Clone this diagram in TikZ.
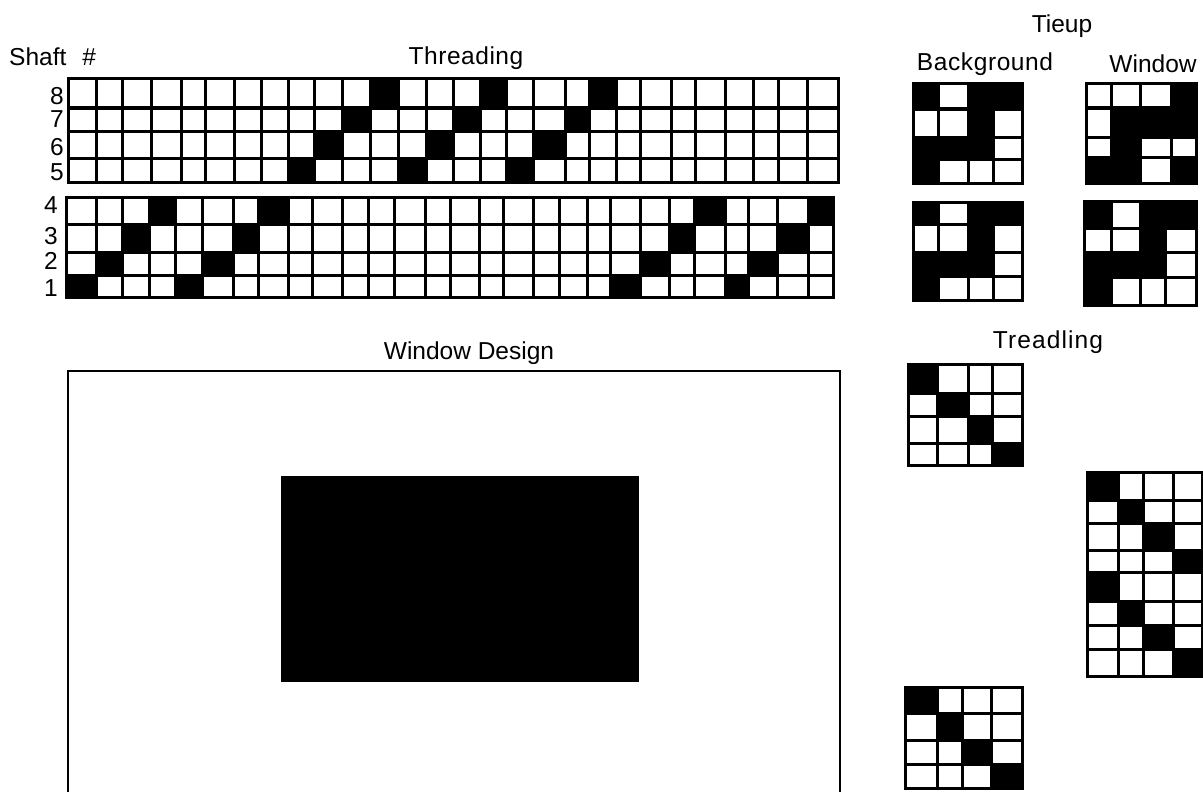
\documentclass[tikz,border=0pt]{standalone}
\usepackage{fontspec}
\setmainfont{Liberation Sans}
\tikzset{
  gridline/.style={black, line width=3pt, line cap=rect},
  framedline/.style={black, line width=2.5pt, line cap=rect},
  caption/.style={font=\fontsize{24.5}{28}\selectfont, inner sep=0pt},
  widecaption/.style={font=\fontsize{24.5}{28}\selectfont\addfontfeature{LetterSpace=#1}, inner sep=0pt},
  shaftnum/.style={font=\fontsize{24.5}{28}\selectfont, inner sep=0pt}
}

\begin{document}
\begin{tikzpicture}[x=1pt,y=-1pt]
\useasboundingbox (0,0) rectangle (1203,792);
% captions
\node[caption, anchor=west] (shaftcap) at (9,56.5) {Shaft\hspace{0.65em}\#};
\node[widecaption=2.2] (threadcap) at (466,58.5) {Threading};
\node[caption] (tieupcap) at (1062,26.5) {Tieup};
\node[widecaption=2.4] (backcap) at (985,64) {Background};
\node[caption] (windowcap) at (1153,64) {Window};
\node[caption] (designcap) at (469,353.5) {Window Design};
\node[widecaption=4.5] (treadcap) at (1048,342.5) {Treadling};
% shaft numbers
\node[shaftnum] (shaft8) at (57,96) {8};
\node[shaftnum] (shaft7) at (57,119.5) {7};
\node[shaftnum] (shaft6) at (57,147.5) {6};
\node[shaftnum] (shaft5) at (57,172) {5};
\node[shaftnum] (shaft4) at (51,205.5) {4};
\node[shaftnum] (shaft3) at (51,236.5) {3};
\node[shaftnum] (shaft2) at (51,260.5) {2};
\node[shaftnum] (shaft1) at (51,288.5) {1};
% threading, upper block
\draw[gridline] (68,79) -- (838,79) (68,108) -- (838,108) (68,131) -- (838,131) (68,158) -- (838,158) (68,182) -- (838,182);
\draw[gridline] (68,79) -- (68,182) (96,79) -- (96,182) (122,79) -- (122,182) (151,79) -- (151,182) (181,79) -- (181,182) (205,79) -- (205,182) (234,79) -- (234,182);
\draw[gridline] (261,79) -- (261,182) (288,79) -- (288,182) (314,79) -- (314,182) (342,79) -- (342,182) (370,79) -- (370,182) (398,79) -- (398,182) (426,79) -- (426,182);
\draw[gridline] (453,79) -- (453,182) (480,79) -- (480,182) (506,79) -- (506,182) (533,79) -- (533,182) (565,79) -- (565,182) (589,79) -- (589,182) (616,79) -- (616,182);
\draw[gridline] (640,79) -- (640,182) (671,79) -- (671,182) (695,79) -- (695,182) (725,79) -- (725,182) (753,79) -- (753,182) (778,79) -- (778,182) (807,79) -- (807,182) (838,79) -- (838,182);
\fill[black] (288,158) rectangle (314,182);
\fill[black] (314,131) rectangle (342,158);
\fill[black] (342,108) rectangle (370,131);
\fill[black] (370,79) rectangle (398,108);
\fill[black] (398,158) rectangle (426,182);
\fill[black] (426,131) rectangle (453,158);
\fill[black] (453,108) rectangle (480,131);
\fill[black] (480,79) rectangle (506,108);
\fill[black] (506,158) rectangle (533,182);
\fill[black] (533,131) rectangle (565,158);
\fill[black] (565,108) rectangle (589,131);
\fill[black] (589,79) rectangle (616,108);
% threading, lower block
\draw[gridline] (66,197) -- (833,197) (66,224) -- (833,224) (66,252) -- (833,252) (66,275) -- (833,275) (66,297) -- (833,297);
\draw[gridline] (66,197) -- (66,297) (96,197) -- (96,297) (122,197) -- (122,297) (149,197) -- (149,297) (175,197) -- (175,297) (202,197) -- (202,297) (233,197) -- (233,297);
\draw[gridline] (258,197) -- (258,297) (288,197) -- (288,297) (312,197) -- (312,297) (342,197) -- (342,297) (368,197) -- (368,297) (394,197) -- (394,297) (425,197) -- (425,297);
\draw[gridline] (450,197) -- (450,297) (479,197) -- (479,297) (503,197) -- (503,297) (533,197) -- (533,297) (559,197) -- (559,297) (587,197) -- (587,297) (610,197) -- (610,297);
\draw[gridline] (640,197) -- (640,297) (669,197) -- (669,297) (694,197) -- (694,297) (725,197) -- (725,297) (748,197) -- (748,297) (777,197) -- (777,297) (808,197) -- (808,297) (833,197) -- (833,297);
\fill[black] (66,275) rectangle (96,297);
\fill[black] (96,252) rectangle (122,275);
\fill[black] (122,224) rectangle (149,252);
\fill[black] (149,197) rectangle (175,224);
\fill[black] (175,275) rectangle (202,297);
\fill[black] (202,252) rectangle (233,275);
\fill[black] (233,224) rectangle (258,252);
\fill[black] (258,197) rectangle (288,224);
\fill[black] (610,275) rectangle (640,297);
\fill[black] (640,252) rectangle (669,275);
\fill[black] (669,224) rectangle (694,252);
\fill[black] (694,197) rectangle (725,224);
\fill[black] (725,275) rectangle (748,297);
\fill[black] (748,252) rectangle (777,275);
\fill[black] (777,224) rectangle (808,252);
\fill[black] (808,197) rectangle (833,224);
% tieup, background top
\draw[gridline] (913,84) -- (1022,84) (913,109) -- (1022,109) (913,137) -- (1022,137) (913,159) -- (1022,159) (913,183) -- (1022,183);
\draw[gridline] (913,84) -- (913,183) (938,84) -- (938,183) (968,84) -- (968,183) (993,84) -- (993,183) (1022,84) -- (1022,183);
\fill[black] (913,84) rectangle (938,109);
\fill[black] (968,84) rectangle (1022,109);
\fill[black] (968,109) rectangle (993,137);
\fill[black] (913,137) rectangle (993,159);
\fill[black] (913,159) rectangle (938,183);
% tieup, window top
\draw[gridline] (1086,84) -- (1196,84) (1086,108) -- (1196,108) (1086,137) -- (1196,137) (1086,157) -- (1196,157) (1086,183) -- (1196,183);
\draw[gridline] (1086,84) -- (1086,183) (1111,84) -- (1111,183) (1140,84) -- (1140,183) (1171,84) -- (1171,183) (1196,84) -- (1196,183);
\fill[black] (1171,84) rectangle (1196,108);
\fill[black] (1111,108) rectangle (1196,137);
\fill[black] (1111,137) rectangle (1140,157);
\fill[black] (1086,157) rectangle (1140,183);
\fill[black] (1171,157) rectangle (1196,183);
% tieup, background bottom
\draw[gridline] (913,202) -- (1022,202) (913,224) -- (1022,224) (913,252) -- (1022,252) (913,276) -- (1022,276) (913,300) -- (1022,300);
\draw[gridline] (913,202) -- (913,300) (938,202) -- (938,300) (968,202) -- (968,300) (993,202) -- (993,300) (1022,202) -- (1022,300);
\fill[black] (913,202) rectangle (938,224);
\fill[black] (968,202) rectangle (1022,224);
\fill[black] (968,224) rectangle (993,252);
\fill[black] (913,252) rectangle (993,276);
\fill[black] (913,276) rectangle (938,300);
% tieup, window bottom
\draw[gridline] (1084,201) -- (1196,201) (1084,228) -- (1196,228) (1084,252) -- (1196,252) (1084,277) -- (1196,277) (1084,305) -- (1196,305);
\draw[gridline] (1084,201) -- (1084,305) (1111,201) -- (1111,305) (1140,201) -- (1140,305) (1165,201) -- (1165,305) (1196,201) -- (1196,305);
\fill[black] (1084,201) rectangle (1111,228);
\fill[black] (1140,201) rectangle (1196,228);
\fill[black] (1140,228) rectangle (1165,252);
\fill[black] (1084,252) rectangle (1165,277);
\fill[black] (1084,277) rectangle (1111,305);
% window design
\draw[framedline] (68,795) -- (68,371) -- (840,371) -- (840,795);
\fill[black] (281,476) rectangle (639,682);
% treadling, first block
\draw[gridline] (908,364) -- (1022,364) (908,393) -- (1022,393) (908,416) -- (1022,416) (908,443) -- (1022,443) (908,465) -- (1022,465);
\draw[gridline] (908,364) -- (908,465) (937,364) -- (937,465) (968,364) -- (968,465) (992,364) -- (992,465) (1022,364) -- (1022,465);
\fill[black] (908,364) rectangle (937,393);
\fill[black] (937,393) rectangle (968,416);
\fill[black] (968,416) rectangle (992,443);
\fill[black] (992,443) rectangle (1022,465);
% treadling, second block
\draw[gridline] (1087,472) -- (1202,472) (1087,500) -- (1202,500) (1087,523) -- (1202,523) (1087,550) -- (1202,550) (1087,572) -- (1202,572);
\draw[gridline] (1087,601) -- (1202,601) (1087,625) -- (1202,625) (1087,649) -- (1202,649) (1087,676) -- (1202,676);
\draw[gridline] (1087,472) -- (1087,676) (1118,472) -- (1118,676) (1143,472) -- (1143,676) (1173,472) -- (1173,676) (1202,472) -- (1202,676);
\fill[black] (1087,472) rectangle (1118,500);
\fill[black] (1118,500) rectangle (1143,523);
\fill[black] (1143,523) rectangle (1173,550);
\fill[black] (1173,550) rectangle (1202,572);
\fill[black] (1087,572) rectangle (1118,601);
\fill[black] (1118,601) rectangle (1143,625);
\fill[black] (1143,625) rectangle (1173,649);
\fill[black] (1173,649) rectangle (1202,676);
% treadling, third block
\draw[gridline] (905,687) -- (1022,687) (905,713) -- (1022,713) (905,740) -- (1022,740) (905,764) -- (1022,764) (905,788) -- (1022,788);
\draw[gridline] (905,687) -- (905,788) (937,687) -- (937,788) (962,687) -- (962,788) (991,687) -- (991,788) (1022,687) -- (1022,788);
\fill[black] (905,687) rectangle (937,713);
\fill[black] (937,713) rectangle (962,740);
\fill[black] (962,740) rectangle (991,764);
\fill[black] (991,764) rectangle (1022,788);
\end{tikzpicture}
\end{document}
